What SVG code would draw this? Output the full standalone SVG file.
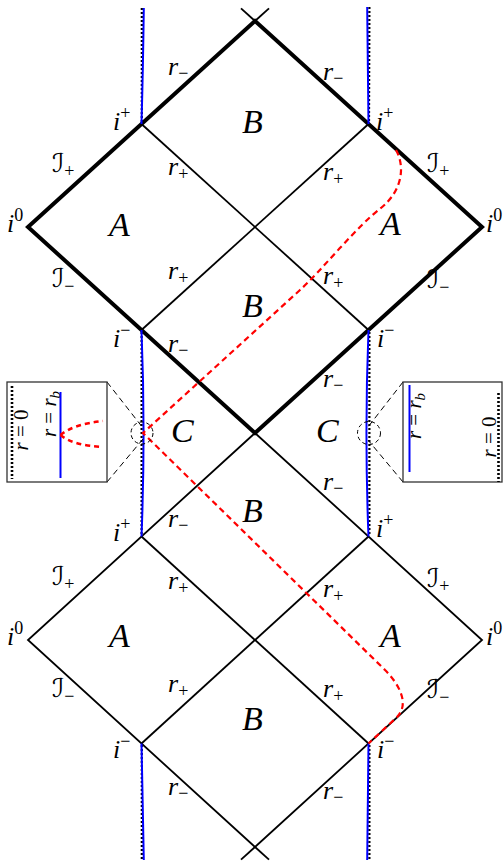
<svg xmlns="http://www.w3.org/2000/svg" width="503" height="863" viewBox="0 0 503 863">
<style>
.thick{stroke:#000;stroke-width:4;fill:none;stroke-linejoin:miter}
.thin{stroke:#000;stroke-width:1.8;fill:none}
.blue{stroke:#0000ff;stroke-width:2;fill:none}
.dot{stroke:#000;stroke-width:2.2;stroke-dasharray:2,2;fill:none}
.red{stroke:#ff0000;stroke-width:2.2;stroke-dasharray:6,4;fill:none}
.dash{stroke:#000;stroke-width:1;stroke-dasharray:6,4;fill:none}
.circ{stroke:#000;stroke-width:1;stroke-dasharray:4,3;fill:none}
.box{stroke:#333;stroke-width:1.3;fill:#fff}
text{font-family:"Liberation Serif","DejaVu Serif",serif;font-style:italic;font-size:26px;fill:#000}
.big{font-size:34px}
.scr{font-family:"DejaVu Serif","DejaVu Sans",serif;font-size:26px}
.s{font-size:18px;font-style:normal;font-family:"Liberation Serif",serif}
.n{font-style:normal}
.ins{font-size:21px}
</style>
<g id="connectors">
<path class="thick" d="M255,21 L28,227 L255,433 L482,227 Z"/>
<line class="thin" x1="141.5" y1="124" x2="368.5" y2="330"/>
<line class="thin" x1="368.5" y1="124" x2="141.5" y2="330"/>
<line class="thin" x1="255" y1="21" x2="241" y2="8.3"/>
<line class="thin" x1="255" y1="21" x2="269" y2="8.3"/>
<path class="thin" d="M255,433 L28,640 L255,847 L482,640 Z"/>
<line class="thin" x1="141.5" y1="536.5" x2="368.5" y2="743.5"/>
<line class="thin" x1="368.5" y1="536.5" x2="141.5" y2="743.5"/>
<line class="thin" x1="255" y1="847" x2="241" y2="859.7"/>
<line class="thin" x1="255" y1="847" x2="269" y2="859.7"/>
<line class="dot" x1="141.8" y1="8" x2="141.8" y2="122"/>
<path class="blue" d="M143.8,8 Q143,70 141.5,124"/>
<line class="dot" x1="369.4" y1="7" x2="369" y2="122"/>
<path class="blue" d="M367.2,7 Q368,70 368.5,124"/>
<line class="dot" x1="141.6" y1="332" x2="141.6" y2="535"/>
<path class="blue" d="M141.5,330 Q145.6,433 141.5,536.5"/>
<line class="dot" x1="369.4" y1="332" x2="369.4" y2="535"/>
<path class="blue" d="M368.5,330 Q364.4,433 368.5,536.5"/>
<line class="dot" x1="141.8" y1="745" x2="141.8" y2="860"/>
<path class="blue" d="M141.5,743.5 Q142.6,800 143.8,860"/>
<line class="dot" x1="369.4" y1="745" x2="369.4" y2="860"/>
<path class="blue" d="M368.5,743.5 Q368,800 367.2,860"/>
<path class="red" d="M396,150 C405,166 403,190 381,208 C357,226 322,270 300,290 L143,433 L385,670 C399,684 410,704 397,717 L368.5,743.5"/>
<circle class="circ" cx="142" cy="433" r="11"/>
<circle class="circ" cx="369" cy="433" r="11.5"/>
<line class="dash" x1="107" y1="382" x2="143" y2="428"/>
<line class="dash" x1="107" y1="482" x2="143" y2="439"/>
<line class="dash" x1="403" y1="382" x2="368" y2="427"/>
<line class="dash" x1="403" y1="482" x2="368" y2="440"/>
</g>
<g id="inset-left">
<rect class="box" x="7" y="382" width="100" height="100"/>
<line class="dot" x1="12" y1="386" x2="12" y2="479" style="stroke-width:2.6"/>
<line class="blue" x1="60.5" y1="392" x2="60.5" y2="478"/>
<path class="red" d="M60.5,435 C70,427 85,423 103,421 M60.5,435 C70,443 85,446 103,447" style="stroke-width:2.5;stroke-dasharray:5,4"/>
<text class="ins" transform="translate(28,430) rotate(-90)" text-anchor="middle">r<tspan class="n"> = 0</tspan></text>
<text class="ins" transform="translate(56,414) rotate(-90)" text-anchor="middle">r<tspan class="n"> = </tspan>r<tspan class="s" dy="4" style="font-style:italic;font-size:15px">b</tspan></text>
</g>
<g id="inset-right">
<rect class="box" x="403" y="382" width="99" height="100"/>
<line class="blue" x1="409.5" y1="385" x2="409.5" y2="472"/>
<line class="dot" x1="498.5" y1="393" x2="498.5" y2="482" style="stroke-width:2.6"/>
<text class="ins" transform="translate(421,416) rotate(-90)" text-anchor="middle">r<tspan class="n"> = </tspan>r<tspan class="s" dy="4" style="font-style:italic;font-size:15px">b</tspan></text>
<text class="ins" transform="translate(496,437) rotate(-90)" text-anchor="middle">r<tspan class="n"> = 0</tspan></text>
</g>
<g id="region-labels">
<text class="big" x="242" y="133">B</text>
<text class="big" x="109" y="236">A</text>
<text class="big" x="380" y="235">A</text>
<text class="big" x="242" y="317">B</text>
<text class="big" x="171" y="442">C</text>
<text class="big" x="316" y="442">C</text>
<text class="big" x="242" y="522">B</text>
<text class="big" x="109" y="647">A</text>
<text class="big" x="380" y="647">A</text>
<text class="big" x="242" y="730">B</text>
</g>
<g id="point-labels">
<text x="113" y="130">i<tspan class="s" dy="-11">+</tspan></text>
<text x="376" y="130">i<tspan class="s" dy="-11">+</tspan></text>
<text x="7" y="232">i<tspan class="s" dy="-11">0</tspan></text>
<text x="486" y="232">i<tspan class="s" dy="-11">0</tspan></text>
<text x="113" y="347">i<tspan class="s" dy="-11">−</tspan></text>
<text x="377" y="347">i<tspan class="s" dy="-11">−</tspan></text>
<text x="113" y="541">i<tspan class="s" dy="-11">+</tspan></text>
<text x="376" y="537">i<tspan class="s" dy="-11">+</tspan></text>
<text x="7" y="645">i<tspan class="s" dy="-11">0</tspan></text>
<text x="486" y="645">i<tspan class="s" dy="-11">0</tspan></text>
<text x="113" y="758">i<tspan class="s" dy="-11">−</tspan></text>
<text x="377" y="758">i<tspan class="s" dy="-11">−</tspan></text>
</g>
<g id="scri-labels">
<text class="scr" x="52" y="172">ℐ<tspan class="s" dy="5">+</tspan></text>
<text class="scr" x="427" y="172">ℐ<tspan class="s" dy="5">+</tspan></text>
<text class="scr" x="52" y="287">ℐ<tspan class="s" dy="5">−</tspan></text>
<text class="scr" x="427" y="288">ℐ<tspan class="s" dy="5">−</tspan></text>
<text class="scr" x="52" y="585">ℐ<tspan class="s" dy="5">+</tspan></text>
<text class="scr" x="427" y="587">ℐ<tspan class="s" dy="5">+</tspan></text>
<text class="scr" x="52" y="697">ℐ<tspan class="s" dy="5">−</tspan></text>
<text class="scr" x="427" y="698">ℐ<tspan class="s" dy="5">−</tspan></text>
</g>
<g id="horizon-labels">
<text x="168" y="75">r<tspan class="s" dy="4">−</tspan></text>
<text x="323" y="80">r<tspan class="s" dy="4">−</tspan></text>
<text x="168" y="175">r<tspan class="s" dy="5">+</tspan></text>
<text x="323" y="180">r<tspan class="s" dy="5">+</tspan></text>
<text x="168" y="279">r<tspan class="s" dy="5">+</tspan></text>
<text x="323" y="284">r<tspan class="s" dy="5">+</tspan></text>
<text x="168" y="352">r<tspan class="s" dy="4">−</tspan></text>
<text x="323" y="387">r<tspan class="s" dy="4">−</tspan></text>
<text x="168" y="527">r<tspan class="s" dy="4">−</tspan></text>
<text x="323" y="490">r<tspan class="s" dy="4">−</tspan></text>
<text x="168" y="589">r<tspan class="s" dy="5">+</tspan></text>
<text x="323" y="597">r<tspan class="s" dy="5">+</tspan></text>
<text x="168" y="692">r<tspan class="s" dy="5">+</tspan></text>
<text x="323" y="697">r<tspan class="s" dy="5">+</tspan></text>
<text x="168" y="795">r<tspan class="s" dy="4">−</tspan></text>
<text x="323" y="799">r<tspan class="s" dy="4">−</tspan></text>
</g>
</svg>
